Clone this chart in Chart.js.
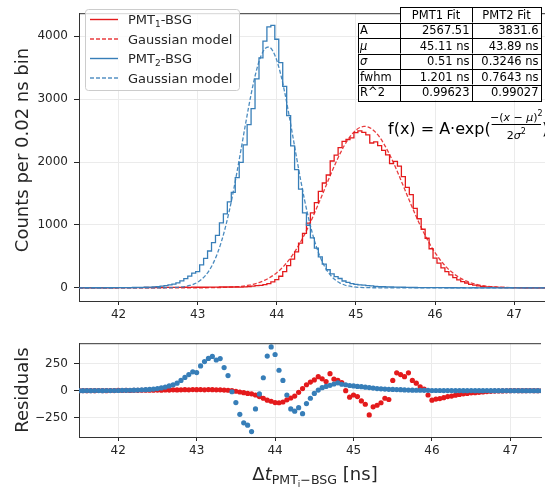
<!DOCTYPE html>
<html>
<head>
<meta charset="utf-8">
<script src="https://cdn.jsdelivr.net/npm/chart.js@4"></script>
<style>
  html, body { margin: 0; padding: 0; background: #fff; overflow: hidden; }
  canvas { position: absolute; left: 0; }
  #top { top: 0; }
  #bottom { top: 330px; }
</style>
</head>
<body>
<canvas id="top" width="545" height="330"></canvas>
<canvas id="bottom" width="545" height="160"></canvas>
<script>
// bins, 0.05 ns apart starting at 41.50 ns
const binStart = 41.5;
const binStep = 0.05;

const xTicks = [42, 43, 44, 45, 46, 47];
const countTicks = [0, 1000, 2000, 3000, 4000];
const residTicks = [-250, 0, 250];

const pmt1Hist = [
  0, 1, 0, 1, 0, 2, 1, 0, 2, 1,
  3, 2, 3, 2, 4, 3, 4, 5, 4, 5,
  6, 5, 7, 6, 8, 7, 8, 9, 8, 10,
  9, 11, 9, 12, 11, 11, 13, 13, 13, 13,
  13, 12, 14, 18, 27, 33, 40, 51, 66, 95,
  130, 184, 256, 352, 455, 570, 712, 866, 1029, 1191,
  1356, 1535, 1667, 1794, 2017, 2109, 2229, 2330, 2359, 2384,
  2468, 2495, 2472, 2434, 2303, 2322, 2261, 2186, 2114, 1974,
  2012, 1936, 1768, 1596, 1481, 1263, 1098, 931, 788, 621,
  472, 392, 317, 256, 207, 161, 127, 99, 76, 56,
  43, 30, 21, 15, 12, 9, 7, 5, 3, 3,
  3, 3, 1, 1, 1, 1, 0, 0, 0
];
const pmt1Model = [
  0, 0, 0, 0, 0, 0, 0, 0, 0, 0,
  0, 0, 0, 0, 0, 0, 0, 0, 0, 0,
  0, 0, 0, 0, 0, 0, 0, 0, 0.2, 0.3,
  0.5, 0.7, 1.1, 1.6, 2.3, 3.3, 4.7, 6.7, 9.3, 12.9,
  17.6, 23.9, 32.1, 42.7, 56.2, 73.4, 94.8, 121.4, 153.9, 193.2,
  240.4, 296.1, 361.3, 436.8, 522.8, 619.6, 727.4, 846, 974.4, 1111,
  1256, 1405, 1557, 1709, 1859, 2001, 2134, 2255, 2359, 2444,
  2508, 2550, 2567, 2560, 2528, 2472, 2396, 2298, 2184, 2056,
  1917, 1770, 1618, 1466, 1315, 1168, 1028, 896, 774, 661,
  560, 470, 390, 321, 262, 211, 169, 134, 105, 81,
  63, 48, 36, 27, 20, 14.6, 10.6, 7.6, 5.4, 3.8,
  2.7, 1.9, 1.3, 0.9, 0.6, 0.4, 0.3, 0.2, 0.1
];
const pmt2Hist = [
  0, 0, 1, 0, 1, 1, 0, 2, 1, 2,
  2, 3, 3, 4, 5, 6, 8, 9, 12, 15,
  20, 27, 35, 47, 60, 78, 109, 146, 187, 233,
  257, 365, 468, 585, 718, 834, 1033, 1175, 1366, 1519,
  1752, 1995, 2273, 2595, 2849, 3322, 3657, 3923, 4151, 4173,
  3954, 3583, 3203, 2740, 2259, 1881, 1568, 1191, 995, 795,
  630, 491, 378, 287, 220, 177, 148, 108, 85, 67,
  55, 47, 41, 35, 30, 24, 20, 17, 15, 13,
  12, 10, 9, 7, 6, 5, 4, 4, 3, 3,
  2, 2, 2, 1, 1, 1, 0, 1, 0, 0,
  1, 0, 0, 0, 1, 0, 0, 0, 0, 1,
  0, 0, 0, 0, 0, 0, 0, 0, 0
];
const pmt2Model = [
  0, 0, 0, 0, 0, 0, 0, 0, 0, 0,
  0, 0, 0, 0, 0, 0, 0, 0, 0.1, 0.2,
  0.4, 0.8, 1.4, 2.6, 4.6, 8, 13.6, 22.6, 36.6, 57.9,
  89.3, 134.7, 198.2, 284.9, 400, 548.6, 734.6, 960.4, 1226, 1529,
  1862, 2214, 2571, 2915, 3229, 3491, 3687, 3803, 3830, 3767,
  3618, 3393, 3108, 2780, 2428, 2071, 1726, 1404, 1115, 865,
  655, 485, 350, 247, 170, 114.6, 75.3, 48.3, 30.3, 18.5,
  11.1, 6.5, 3.7, 2, 1.1, 0.6, 0.3, 0.2, 0.1, 0,
  0, 0, 0, 0, 0, 0, 0, 0, 0, 0,
  0, 0, 0, 0, 0, 0, 0, 0, 0, 0,
  0, 0, 0, 0, 0, 0, 0, 0, 0, 0,
  0, 0, 0, 0, 0, 0, 0, 0, 0
];
const pmt1Resid = [
  0, 1, 0, 1, 0, 2, 1, 0, 2, 1,
  3, 2, 3, 2, 4, 3, 4, 5, 4, 5,
  6, 5, 7, 6, 8, 7, 8, 9, 8, 10,
  9, 10, 8, 10, 9, 8, 8, 6, 4, 0,
  -5, -12, -18, -25, -29, -40, -55, -70, -88, -98,
  -110, -112, -105, -85, -68, -50, -15, 20, 55, 80,
  100, 130, 110, 85, 158, 108, 95, 75, 0, -60,
  -40, -55, -95, -126, -225, -150, -135, -112, -70, -82,
  95, 166, 150, 130, 166, 95, 70, 35, 14, -40,
  -88, -78, -73, -65, -55, -50, -42, -35, -29, -25,
  -20, -18, -15, -12, -8, -6, -4, -3, -2, -1,
  0, 1, 0, 0, 0, 1, 0, 0, 0
];
const pmt2Resid = [
  0, 0, 1, 0, 1, 1, 0, 2, 1, 2,
  2, 3, 3, 4, 5, 6, 8, 9, 12, 15,
  20, 26, 34, 44, 55, 70, 95, 123, 150, 175,
  168, 230, 270, 300, 318, 285, 298, 215, 140, -10,
  -110, -219, -298, -320, -380, -169, -30, 120, 321, 406,
  336, 190, 95, -40, -169, -190, -158, -213, -120, -70,
  -25, 6, 28, 40, 50, 62, 73, 60, 55, 48,
  44, 40, 37, 33, 29, 24, 20, 17, 15, 13,
  12, 10, 9, 7, 6, 5, 4, 4, 3, 3,
  2, 2, 2, 1, 1, 1, 0, 1, 0, 0,
  1, 0, 0, 0, 1, 0, 0, 0, 0, 1,
  0, 0, 0, 0, 0, 0, 0, 0, 0
];

const tableCols = ['PMT1 Fit', 'PMT2 Fit'];
const tableRows = ['A', 'μ', 'σ', 'fwhm', 'R^2'];
const pmt1Fit = ['2567.51', '45.11 ns', '0.51 ns', '1.201 ns', '0.99623'];
const pmt2Fit = ['3831.6', '43.89 ns', '0.3246 ns', '0.7643 ns', '0.99027'];

const RED = '#e41a1c';
const BLUE = '#377eb8';
const INK = '#262626';
const GRID = '#ebebeb';
const FONT = "'DejaVu Sans', sans-serif";

const xs = pmt1Hist.map((_, i) => +(binStart + i * binStep).toFixed(2));
const pts = ys => ys.map((y, i) => ({ x: xs[i], y }));

// draws a list of [text, size, dy, italic] pieces from x, returns width
function runs(ctx, parts, x, y, measureOnly) {
  let cx = x;
  for (const [t, size, dy, it] of parts) {
    ctx.font = (it ? 'italic ' : '') + size + 'px ' + FONT;
    if (!measureOnly) ctx.fillText(t, cx, y + dy);
    cx += ctx.measureText(t).width;
  }
  return cx - x;
}

function xScale(h) {
  return {
    type: 'linear', min: 41.5, max: 47.39,
    afterBuildTicks: s => { s.ticks = xTicks.map(v => ({ value: v })); },
    afterFit: s => { s.height = h; },
    grid: { color: GRID, tickColor: INK, tickLength: 4 },
    border: { color: '#333', width: 1 },
    ticks: { color: INK, font: { family: FONT, size: 12 }, padding: 3, maxRotation: 0, autoSkip: false }
  };
}

function yScale(min, max, ticks) {
  return {
    min, max,
    afterBuildTicks: s => { s.ticks = ticks.map(v => ({ value: v })); },
    afterFit: s => { s.width = 79; },
    grid: { color: GRID, tickColor: INK, tickLength: 5 },
    border: { color: '#333', width: 1 },
    ticks: {
      color: INK, font: { family: FONT, size: 12 }, padding: 6, autoSkip: false,
      callback: v => (v < 0 ? '\u2212' + Math.abs(v) : String(v))
    }
  };
}

const topDecor = {
  id: 'topDecor',
  afterDraw(chart) {
    const ctx = chart.ctx;
    const a = chart.chartArea;
    ctx.save();
    ctx.strokeStyle = '#333';
    ctx.lineWidth = 1;
    ctx.beginPath();
    ctx.moveTo(a.left, a.top + 0.5);
    ctx.lineTo(a.right, a.top + 0.5);
    ctx.stroke();

    // legend
    ctx.fillStyle = 'rgba(255,255,255,0.8)';
    ctx.strokeStyle = '#cccccc';
    ctx.beginPath();
    ctx.roundRect(85.5, 9.5, 154, 81, 3);
    ctx.fill();
    ctx.stroke();
    const entries = [
      [RED, [], [['PMT', 13, 0], ['1', 9, 3], ['-BSG', 13, 0]]],
      [RED, [4, 2], [['Gaussian model', 13, 0]]],
      [BLUE, [], [['PMT', 13, 0], ['2', 9, 3], ['-BSG', 13, 0]]],
      [BLUE, [4, 2], [['Gaussian model', 13, 0]]]
    ];
    entries.forEach(([col, dash, label], i) => {
      const y = 19.5 + i * 19.5;
      ctx.strokeStyle = col;
      ctx.globalAlpha = dash.length ? 0.85 : 1;
      ctx.lineWidth = 1.4;
      ctx.setLineDash(dash);
      ctx.beginPath();
      ctx.moveTo(90, y);
      ctx.lineTo(118, y);
      ctx.stroke();
      ctx.setLineDash([]);
      ctx.globalAlpha = 1;
      ctx.fillStyle = INK;
      ctx.textAlign = 'left';
      ctx.textBaseline = 'alphabetic';
      runs(ctx, label, 128, y + 4.7);
    });

    // fit table
    const colX = [358, 400, 472, 541];
    const top = 7, rowH = 15.5;
    ctx.lineWidth = 1;
    ctx.strokeStyle = '#000';
    for (let r = 0; r <= tableRows.length; r++) {
      for (let c = 0; c < 3; c++) {
        if (r === 0 && c === 0) continue;
        const x0 = colX[c], x1 = colX[c + 1], y0 = top + r * rowH;
        ctx.fillStyle = '#fff';
        ctx.fillRect(x0, y0, x1 - x0, rowH);
        ctx.strokeRect(Math.round(x0) + 0.5, Math.round(y0) + 0.5, Math.round(x1 - x0), Math.round(rowH));
        ctx.fillStyle = '#000';
        ctx.font = '11.5px ' + FONT;
        const by = y0 + rowH / 2 + 4.2;
        if (r === 0) {
          ctx.textAlign = 'center';
          ctx.fillText(tableCols[c - 1], (x0 + x1) / 2, by);
        } else if (c === 0) {
          ctx.textAlign = 'left';
          const lab = tableRows[r - 1];
          ctx.font = (lab === 'μ' || lab === 'σ' ? 'italic ' : '') + '11.5px ' + FONT;
          ctx.fillText(lab, x0 + 2, by);
        } else {
          ctx.textAlign = 'right';
          ctx.fillText((c === 1 ? pmt1Fit : pmt2Fit)[r - 1], x1 - 2.5, by);
        }
      }
    }

    // model formula
    ctx.fillStyle = '#000';
    ctx.textAlign = 'left';
    ctx.font = '16px ' + FONT;
    const head = 'f(x) = A·exp(';
    ctx.fillText(head, 388, 134);
    const fx0 = 388 + ctx.measureText(head).width + 1, fx1 = 541;
    ctx.fillRect(fx0, 124, fx1 - fx0, 1);
    const num = [['−(', 11, 0], ['x', 11, 0, true], [' − ', 11, 0], ['μ', 11, 0, true], [')', 11, 0], ['2', 8, -5]];
    const den = [['2', 11, 0], ['σ', 11, 0, true], ['2', 8, -5]];
    const nw = runs(ctx, num, 0, 0, true);
    runs(ctx, num, (fx0 + fx1) / 2 - nw / 2, 121);
    const dw = runs(ctx, den, 0, 0, true);
    runs(ctx, den, (fx0 + fx1) / 2 - dw / 2, 139);
    ctx.font = '16px ' + FONT;
    ctx.fillText(')', 542, 134);

    // y title
    ctx.translate(23, 150);
    ctx.rotate(-Math.PI / 2);
    ctx.textAlign = 'center';
    ctx.textBaseline = 'middle';
    ctx.fillStyle = INK;
    ctx.font = '18px ' + FONT;
    ctx.fillText('Counts per 0.02 ns bin', 0, 0);
    ctx.restore();
  }
};

const bottomDecor = {
  id: 'bottomDecor',
  afterDraw(chart) {
    const ctx = chart.ctx;
    const a = chart.chartArea;
    ctx.save();
    ctx.strokeStyle = '#333';
    ctx.lineWidth = 1;
    ctx.beginPath();
    ctx.moveTo(a.left, a.top + 0.5);
    ctx.lineTo(a.right, a.top + 0.5);
    ctx.stroke();

    ctx.fillStyle = INK;
    ctx.textBaseline = 'alphabetic';
    ctx.textAlign = 'left';
    const label = [['Δ', 18, 0], ['t', 18, 0, true], ['PMT', 12.6, 4], ['i', 9, 7], ['−BSG', 12.6, 4], [' [ns]', 18, 0]];
    const w = runs(ctx, label, 0, 0, true);
    runs(ctx, label, 315 - w / 2, 150);

    ctx.translate(23, (a.top + a.bottom) / 2);
    ctx.rotate(-Math.PI / 2);
    ctx.textAlign = 'center';
    ctx.textBaseline = 'middle';
    ctx.font = '18px ' + FONT;
    ctx.fillText('Residuals', 0, 0);
    ctx.restore();
  }
};

const common = {
  responsive: false,
  animation: false,
  devicePixelRatio: 1,
  plugins: { legend: { display: false }, tooltip: { enabled: false } }
};

new Chart(document.getElementById('top'), {
  type: 'line',
  data: {
    datasets: [
      { label: 'PMT1-BSG', data: pts(pmt1Hist), borderColor: RED, borderWidth: 1.3, stepped: 'middle', pointRadius: 0, order: 4 },
      { label: 'Gaussian model', data: pts(pmt1Model), borderColor: 'rgba(228,26,28,0.85)', borderWidth: 1.3, borderDash: [4, 2], cubicInterpolationMode: 'monotone', pointRadius: 0, order: 3 },
      { label: 'PMT2-BSG', data: pts(pmt2Hist), borderColor: BLUE, borderWidth: 1.3, stepped: 'middle', pointRadius: 0, order: 2 },
      { label: 'Gaussian model', data: pts(pmt2Model), borderColor: 'rgba(55,126,184,0.9)', borderWidth: 1.3, borderDash: [4, 2], cubicInterpolationMode: 'monotone', pointRadius: 0, order: 1 }
    ]
  },
  options: {
    ...common,
    layout: { padding: { top: 1, left: 0, right: 0, bottom: 0 } },
    scales: { x: xScale(29), y: yScale(-210, 4368, countTicks) }
  },
  plugins: [topDecor]
});

new Chart(document.getElementById('bottom'), {
  type: 'scatter',
  data: {
    datasets: [
      { label: 'PMT1 residuals', data: pts(pmt1Resid), backgroundColor: RED, pointRadius: 2.6, pointBorderWidth: 0, order: 2 },
      { label: 'PMT2 residuals', data: pts(pmt2Resid), backgroundColor: BLUE, pointRadius: 2.6, pointBorderWidth: 0, order: 1 }
    ]
  },
  options: {
    ...common,
    layout: { padding: { top: 8, left: 0, right: 0, bottom: 0 } },
    scales: { x: xScale(53), y: yScale(-430, 441, residTicks) }
  },
  plugins: [bottomDecor]
});
</script>
</body>
</html>
